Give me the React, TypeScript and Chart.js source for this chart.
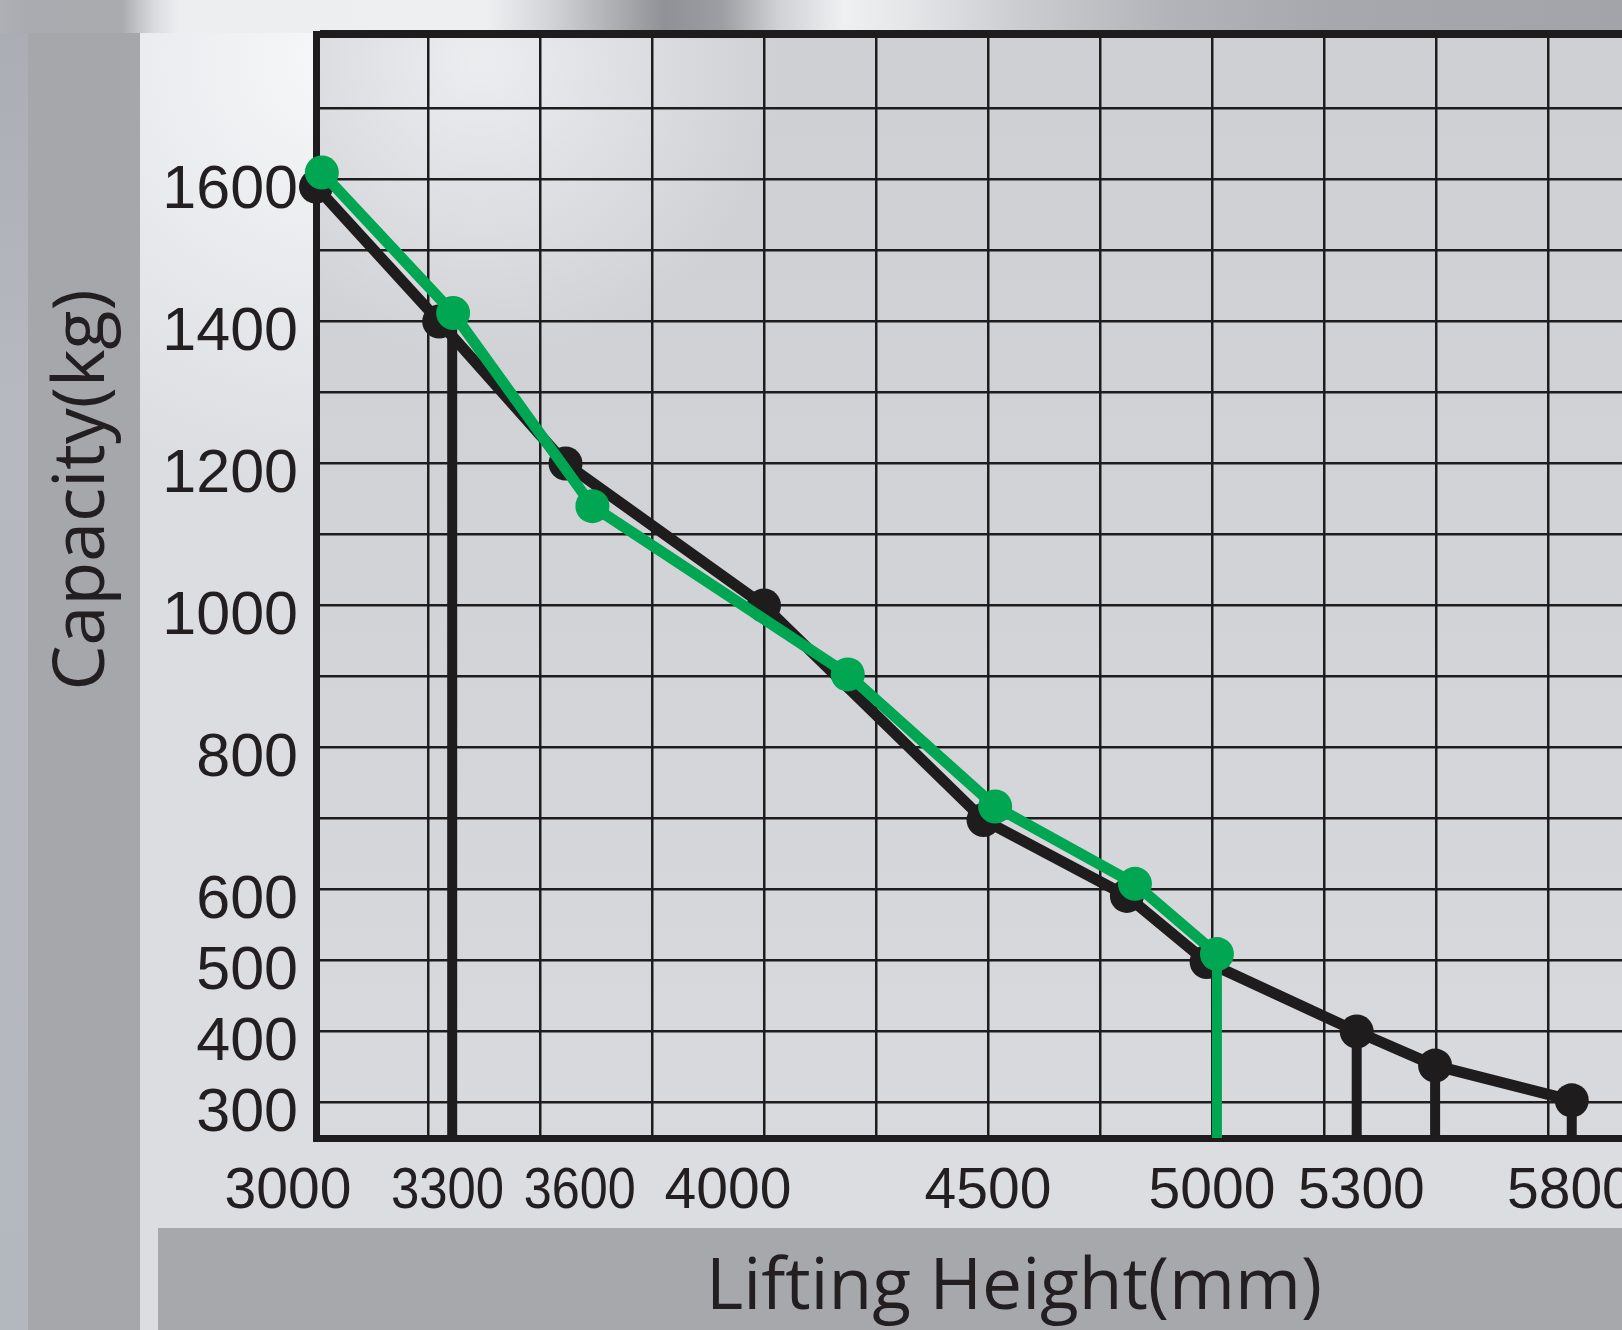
import React, { useEffect, useRef } from "react";
import { Chart, registerables } from "chart.js";

Chart.register(...registerables);

// ---------------- data ----------------
const heightLabels = [3000, 3300, 3600, 4000, 4500, 5000, 5300, 5800];
const heightGridLines = [3000, 3250, 3500, 3750, 4000, 4250, 4500, 4750, 5000, 5250, 5500, 5750, 6000];
const capacityLabels = [300, 400, 500, 600, 800, 1000, 1200, 1400, 1600];
const capacityGridLines = [300, 400, 500, 600, 700, 800, 900, 1000, 1100, 1200, 1300, 1400, 1500, 1600, 1700];

const blackHeights = [3000, 3275, 3557, 4000, 4490, 4810, 4988, 5323, 5498, 5803];
const blackCapacity = [1590, 1400, 1200, 1000, 698, 591, 498, 400, 352, 303];

const greenHeights = [3013, 3306, 3617, 4187, 4516, 4828, 5011];
const greenCapacity = [1610, 1412, 1140, 903, 717, 608, 509];

const blackDropHeights = [3304, 5323, 5498, 5803];
const blackDropCapacity = [1400, 400, 352, 303];

const greenDropHeights = [5011];
const greenDropCapacity = [509];

const X_MIN = 3000;
const X_MAX = 6000;
const Y_MIN = 250;
const Y_MAX = 1805;

const X_TITLE = "Lifting Height(mm)";
const Y_TITLE = "Capacity(kg)";

// ---------------- styles ----------------
const INK = "#1f1c1d";
const TEXT = "#231f20";
const GREEN = "#00a651";
const TICK_FONT = "'Liberation Sans', Arial, sans-serif";
const TITLE_FONT = "'Open Sans', 'Noto Sans', sans-serif";

// cosmetic label nudges / squeezes as printed in the original artwork (pixels)
const X_LABEL_NUDGE: Record<string, number> = { "3000": -28, "3300": -3, "3600": -5, "4000": -36, "5300": 15 };
const X_LABEL_SQUEEZE: Record<string, number> = { "3300": 113, "3600": 112 };

const backgroundPlugin = {
  id: "pageBackground",
  beforeDraw(chart: any) {
    const { ctx, width, height, chartArea: a } = chart;
    ctx.save();
    ctx.fillStyle = "#dcdde0";
    ctx.fillRect(0, 0, width, height);

    const rg = ctx.createRadialGradient(330, 60, 10, 330, 60, 430);
    rg.addColorStop(0, "rgba(247,248,250,0.95)");
    rg.addColorStop(1, "rgba(247,248,250,0)");
    ctx.fillStyle = rg;
    ctx.fillRect(140, 33, 800, 700);

    const pg = ctx.createLinearGradient(0, a.top, 0, a.bottom);
    pg.addColorStop(0, "#cfd0d4");
    pg.addColorStop(0.5, "#d2d3d7");
    pg.addColorStop(1, "#d9dade");
    ctx.fillStyle = pg;
    ctx.fillRect(a.left, a.top, a.right - a.left, a.bottom - a.top);
    const rg2 = ctx.createRadialGradient(480, 60, 10, 480, 60, 300);
    rg2.addColorStop(0, "rgba(240,241,243,0.85)");
    rg2.addColorStop(1, "rgba(240,241,243,0)");
    ctx.fillStyle = rg2;
    ctx.fillRect(a.left, a.top, 700, 400);

    const lg = ctx.createLinearGradient(0, 0, 0, height);
    lg.addColorStop(0, "#a9acb2");
    lg.addColorStop(0.3, "#b6b9bf");
    lg.addColorStop(1, "#b3b7be");
    ctx.fillStyle = lg;
    ctx.fillRect(0, 0, 28, height);
    ctx.fillStyle = "#a6a7ab";
    ctx.fillRect(28, 33, 112, height - 33);

    ctx.fillStyle = "#a7a8ac";
    ctx.fillRect(158, 1228, width - 158, height - 1228);

    const tg = ctx.createLinearGradient(0, 0, 1622, 0);
    tg.addColorStop(0, "#aeb0b5");
    tg.addColorStop(0.015, "#a9abb0");
    tg.addColorStop(0.075, "#a9abaf");
    tg.addColorStop(0.095, "#dadbde");
    tg.addColorStop(0.11, "#eceef0");
    tg.addColorStop(0.3, "#eeeff1");
    tg.addColorStop(0.335, "#d6d7da");
    tg.addColorStop(0.37, "#b6b7bb");
    tg.addColorStop(0.41, "#8f9196");
    tg.addColorStop(0.445, "#9c9ea3");
    tg.addColorStop(0.48, "#d0d1d4");
    tg.addColorStop(0.52, "#eff0f2");
    tg.addColorStop(0.56, "#e5e6e8");
    tg.addColorStop(0.63, "#cbccd0");
    tg.addColorStop(0.72, "#b2b4b9");
    tg.addColorStop(0.82, "#a6a8ae");
    tg.addColorStop(1, "#a2a4aa");
    ctx.fillStyle = tg;
    ctx.fillRect(0, 0, width, 33);
    ctx.restore();

    // adjust the x-axis tick label items before the scale draws them
    const xs = chart.scales.x;
    if (xs && xs.getLabelItems) {
      const items = xs.getLabelItems(a);
      items.forEach((it: any) => {
        if (it.__adjusted) return;
        const key = String(it.label);
        if (X_LABEL_NUDGE[key]) it.options.translation[0] += X_LABEL_NUDGE[key];
        if (X_LABEL_SQUEEZE[key]) it.options.maxWidth = X_LABEL_SQUEEZE[key];
        it.__adjusted = true;
      });
    }
  },
};

const titlePlugin = {
  id: "axisTitles",
  afterDraw(chart: any) {
    const { ctx } = chart;
    ctx.save();
    ctx.fillStyle = TEXT;
    ctx.font = `72px ${TITLE_FONT}`;
    ctx.textAlign = "center";
    ctx.textBaseline = "alphabetic";
    ctx.fillText(X_TITLE, 1014, 1309, 616);
    ctx.translate(104, 490);
    ctx.rotate(-Math.PI / 2);
    ctx.fillText(Y_TITLE, 0, 0, 401);
    ctx.restore();
  },
};

function pts(xs: number[], ys: number[]) {
  return xs.map((x, i) => ({ x, y: ys[i] }));
}

function dropLines(xs: number[], tops: number[], color: string) {
  return xs.map((x, i) => ({
    data: [
      { x, y: tops[i] },
      { x, y: Y_MIN },
    ],
    borderColor: color,
    borderWidth: 10,
    borderCapStyle: "butt",
    pointRadius: 0,
    clip: false,
  }));
}

export default function App() {
  const canvasRef = useRef<HTMLCanvasElement | null>(null);

  useEffect(() => {
    if (!canvasRef.current) return;
    const xTicks = Array.from(new Set([...heightGridLines, ...heightLabels])).sort((a, b) => a - b);
    const yTicks = [...capacityGridLines, Y_MAX];

    const chart = new Chart(canvasRef.current, {
      type: "line",
      data: {
        datasets: [
          {
            data: pts(greenHeights, greenCapacity),
            borderColor: GREEN,
            backgroundColor: GREEN,
            borderWidth: 11,
            borderJoinStyle: "round",
            pointRadius: 17,
            pointBorderWidth: 0,
            pointBackgroundColor: GREEN,
            tension: 0,
            clip: false,
          },
          ...dropLines(greenDropHeights, greenDropCapacity, GREEN),
          {
            data: pts(blackHeights, blackCapacity),
            borderColor: INK,
            backgroundColor: INK,
            borderWidth: 11,
            borderJoinStyle: "round",
            pointRadius: 17,
            pointBorderWidth: 0,
            pointBackgroundColor: INK,
            tension: 0,
            clip: false,
          },
          ...dropLines(blackDropHeights, blackDropCapacity, INK),
        ] as any,
      },
      options: {
        animation: false,
        responsive: true,
        maintainAspectRatio: false,
        events: [],
        layout: { padding: { left: 0, top: 34, right: 20, bottom: 0 } },
        plugins: { legend: { display: false }, tooltip: { enabled: false } },
        scales: {
          x: {
            type: "linear",
            min: X_MIN,
            max: X_MAX,
            afterBuildTicks: (s: any) => {
              s.ticks = xTicks.map((v) => ({ value: v }));
            },
            afterFit: (s: any) => {
              s.height = 192;
              s.paddingLeft = 0;
              s.paddingRight = 0;
            },
            grid: {
              color: (c: any) => (heightGridLines.includes(c.tick?.value) ? INK : "rgba(0,0,0,0)"),
              lineWidth: 2.5,
              drawTicks: false,
            },
            border: { display: true, color: INK, width: 7 },
            ticks: {
              autoSkip: false,
              maxRotation: 0,
              minRotation: 0,
              padding: 20,
              color: TEXT,
              font: { family: TICK_FONT, size: 57 },
              callback: (v: any) => (heightLabels.includes(Number(v)) ? String(v) : ""),
            },
          },
          y: {
            type: "linear",
            min: Y_MIN,
            max: Y_MAX,
            afterBuildTicks: (s: any) => {
              s.ticks = yTicks.map((v) => ({ value: v }));
            },
            afterFit: (s: any) => {
              s.width = 316;
              s.paddingTop = 0;
              s.paddingBottom = 0;
            },
            grid: {
              color: INK,
              lineWidth: (c: any) => (c.tick?.value === Y_MAX ? 8 : 2.5),
              drawTicks: false,
            },
            border: { display: true, color: INK, width: 7 },
            ticks: {
              autoSkip: false,
              padding: 18,
              labelOffset: 12,
              color: TEXT,
              font: { family: TICK_FONT, size: 61 },
              callback: (v: any) => (capacityLabels.includes(Number(v)) ? String(v) : ""),
            },
          },
        },
      } as any,
      plugins: [backgroundPlugin, titlePlugin],
    });
    return () => chart.destroy();
  }, []);

  return (
    <div
      style={{
        position: "fixed",
        left: 0,
        top: 0,
        width: "100vw",
        height: "100vh",
        overflow: "hidden",
        background: "#dcdde0",
      }}
    >
      <div style={{ position: "relative", width: 1680, height: 1330 }}>
        <canvas ref={canvasRef} />
      </div>
    </div>
  );
}
